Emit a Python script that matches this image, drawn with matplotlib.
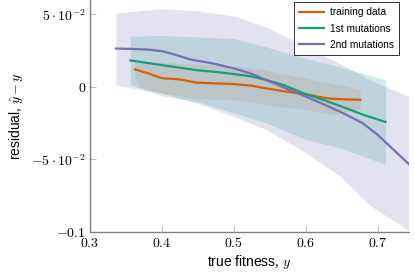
import numpy as np
import matplotlib
matplotlib.use('Agg')
from matplotlib import pyplot as plt

plt.rcParams['font.family'] = ['Liberation Sans', 'DejaVu Sans']
plt.rcParams['mathtext.fontset'] = 'cm'

# series: mean residual lines
train_x = [0.3625, 0.38, 0.40, 0.425, 0.448, 0.475, 0.50, 0.525, 0.545, 0.57, 0.60, 0.62, 0.637, 0.655, 0.676]
train_y = [0.0121, 0.0095, 0.0060, 0.0052, 0.0030, 0.0024, 0.0020, 0.0008, -0.0010, -0.0030, -0.0050, -0.0070, -0.0082, -0.0086, -0.0089]

mut1_x = [0.356, 0.38, 0.40, 0.425, 0.448, 0.475, 0.50, 0.525, 0.545, 0.57, 0.60, 0.625, 0.647, 0.68, 0.711]
mut1_y = [0.0183, 0.0165, 0.0151, 0.0132, 0.0116, 0.0103, 0.0089, 0.0072, 0.0048, 0.0012, -0.0050, -0.0090, -0.0130, -0.0192, -0.0242]

mut2_x = [0.336, 0.36, 0.379, 0.40, 0.42, 0.439, 0.471, 0.50, 0.525, 0.545, 0.57, 0.60, 0.625, 0.647, 0.679, 0.70, 0.712, 0.73, 0.743]
mut2_y = [0.0265, 0.0262, 0.0258, 0.0247, 0.0220, 0.0190, 0.0162, 0.0128, 0.0090, 0.0048, -0.0005, -0.0066, -0.0120, -0.0169, -0.0249, -0.0330, -0.0386, -0.0470, -0.0530]

# uncertainty bands (x, lower, upper)
train_bx = [0.3625, 0.37, 0.40, 0.448, 0.50, 0.545, 0.60, 0.637, 0.676]
train_lo = [0.0070, -0.0002, -0.0043, -0.0082, -0.0089, -0.0123, -0.0158, -0.0192, -0.0150]
train_hi = [0.0174, 0.0172, 0.0169, 0.0158, 0.0146, 0.0116, 0.0060, 0.0025, -0.0016]

mut1_bx = [0.356, 0.40, 0.448, 0.50, 0.545, 0.60, 0.647, 0.711]
mut1_lo = [0.0014, -0.0062, -0.0100, -0.0180, -0.0249, -0.0363, -0.0420, -0.0534]
mut1_hi = [0.0350, 0.0356, 0.0345, 0.0333, 0.0276, 0.0196, 0.0139, 0.0048]

mut2_bx = [0.336, 0.40, 0.448, 0.50, 0.545, 0.60, 0.647, 0.69, 0.743]
mut2_lo = [0.0014, -0.0043, -0.0112, -0.0203, -0.0295, -0.0454, -0.0614, -0.0820, -0.0990]
mut2_hi = [0.0510, 0.0540, 0.0525, 0.0490, 0.0413, 0.0276, 0.0162, 0.0048, -0.0066]

orange = '#d95f02'
green = '#1b9e77'
purple = '#7570b3'

fig = plt.figure(figsize=(4.15, 2.73), dpi=100)
ax = fig.add_axes([0.217, 0.151, 0.769, 0.849])

ax.fill_between(mut2_bx, mut2_lo, mut2_hi, color=purple, alpha=0.2, lw=0)
ax.fill_between(mut1_bx, mut1_lo, mut1_hi, color='#2a9a9a', alpha=0.2, lw=0)
ax.fill_between(train_bx, train_lo, train_hi, color='#b07a40', alpha=0.15, lw=0)

ax.plot(train_x, train_y, color=orange, lw=1.6, label='training data')
ax.plot(mut1_x, mut1_y, color=green, lw=1.6, label='1st mutations')
ax.plot(mut2_x, mut2_y, color=purple, lw=1.6, label='2nd mutations')

ax.set_xlim(0.3, 0.744)
ax.set_ylim(-0.1, 0.06)
ax.set_xticks([0.3, 0.4, 0.5, 0.6, 0.7])
ax.set_xticklabels(['$0.3$', '$0.4$', '$0.5$', '$0.6$', '$0.7$'])
ax.set_yticks([-0.1, -0.05, 0, 0.05])
ax.set_yticklabels(['$-0.1$', r'$-5\cdot10^{-2}$', '$0$', r'$5\cdot10^{-2}$'])

for s in ['top', 'right']:
    ax.spines[s].set_visible(False)
for s in ['left', 'bottom']:
    ax.spines[s].set_color('#808080')
    ax.spines[s].set_linewidth(1.0)
ax.tick_params(direction='in', length=4, width=0.6, color='#b0b0b0', labelsize=10, pad=3)

ax.set_xlabel('true fitness, $y$', fontsize=10, labelpad=2)
ax.set_ylabel(r'residual, $\hat{y}-y$', fontsize=10, labelpad=4)

leg = ax.legend(loc='upper right', bbox_to_anchor=(0.969, 0.992), fontsize=7.3,
                frameon=True, fancybox=False, edgecolor='#333333', framealpha=1,
                handlelength=2.4, handletextpad=0.6, borderaxespad=0,
                borderpad=0.55, labelspacing=0.6)
leg.get_frame().set_linewidth(0.7)

plt.savefig('out.png', dpi=100)
